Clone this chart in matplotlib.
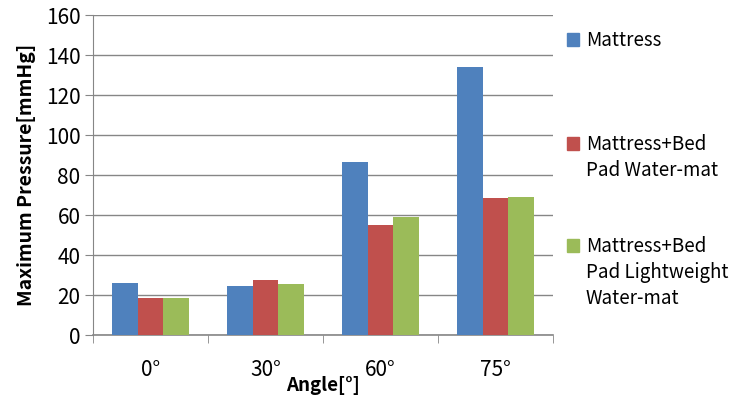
import numpy as np
import matplotlib.pyplot as plt
from matplotlib.patches import Rectangle
from matplotlib.ticker import FixedLocator

plt.rcParams['font.family'] = ['Noto Sans CJK JP', 'DejaVu Sans']

angles = ['0°', '30°', '60°', '75°']
series_names = ['Mattress', 'Mattress+Bed\nPad Water-mat',
                'Mattress+Bed\nPad Lightweight\nWater-mat']
mattress = [26, 24.5, 86.5, 134]
water_mat = [18.5, 27.5, 55, 68.5]
light_mat = [18.5, 25.5, 59, 69]
colors = ['#4F81BD', '#C0504D', '#9BBB59']

W, H = 739, 398
fig = plt.figure(figsize=(W / 100, H / 100), dpi=100)
ax = fig.add_axes([93 / W, 1 - 335 / H, 460 / W, 320 / H])

x = np.arange(len(angles))
w = 0.226
for k, vals in enumerate([mattress, water_mat, light_mat]):
    ax.bar(x + (k - 1) * w, vals, width=w, color=colors[k], zorder=3)

ax.set_xlim(-0.5, len(angles) - 0.5)
ax.set_ylim(0, 160)
ax.set_yticks(range(0, 161, 20))

grid_grey = '#868686'
ax.yaxis.grid(True, color=grid_grey, linewidth=1, zorder=0)
for side in ['top', 'right']:
    ax.spines[side].set_visible(False)
ax.spines['left'].set_color(grid_grey)
ax.spines['bottom'].set_color(grid_grey)
ax.spines['bottom'].set_linewidth(1.2)

# category labels at centres, tick marks between categories
ax.set_xticks(x)
ax.set_xticklabels(angles)
ax.tick_params(axis='x', which='major', length=0, pad=17, labelsize=15)
ax.xaxis.set_minor_locator(FixedLocator(np.arange(-0.5, len(angles), 1)))
ax.tick_params(axis='x', which='minor', length=6, color=grid_grey)
ax.tick_params(axis='y', length=6, color=grid_grey, labelsize=15, pad=3)

ax.set_ylabel('Maximum Pressure[mmHg]', fontsize=14, fontweight='bold',
              labelpad=7)
ax.set_xlabel('Angle[°]', fontsize=13.5, fontweight='bold', labelpad=-3)

# legend: square aligned with the first line of each entry
entry_tops = [33, 137, 239]
for name, col, top in zip(series_names, colors, entry_tops):
    fig.add_artist(Rectangle((567 / W, 1 - (top + 13) / H), 12 / W, 13 / H,
                             transform=fig.transFigure, color=col))
    fig.text(586 / W, 1 - (top - 3) / H, name, fontsize=13.5, va='top',
             ha='left', linespacing=1.3)

fig.savefig('out.png', dpi=100)
